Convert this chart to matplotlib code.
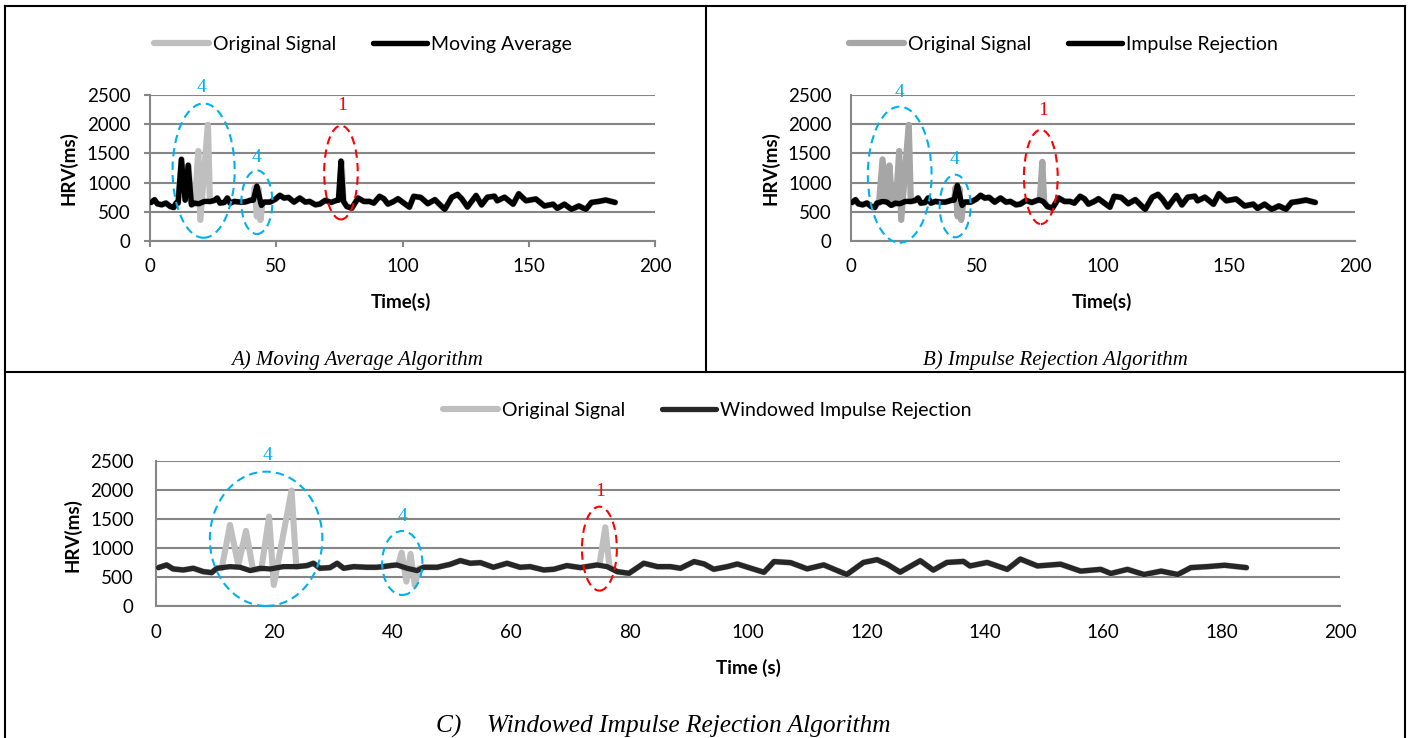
import numpy as np
import matplotlib
matplotlib.use("Agg")
import matplotlib.pyplot as plt
from matplotlib.patches import Ellipse
from matplotlib.lines import Line2D

plt.rcParams['font.family'] = ['Lato', 'DejaVu Sans']

# baseline HRV (artifact free part of the recording), time in s / HRV in ms
base_t = [0.4, 1.8, 2.9, 4.6, 6.3, 8.0, 9.4, 10.3, 12.5, 14.2, 15.9, 17.6, 19.3, 21.5,
          23.8, 25.5, 26.6, 27.7, 29.4, 30.6, 31.7, 33.4, 35.6, 37.3, 38.4, 39.6, 40.7,
          42.4, 44.1, 45.2, 47.5, 49.7, 51.4, 53.1, 54.8, 57.0, 59.3, 61.5, 63.2, 65.5,
          67.2, 69.4, 71.7, 74.5, 76.2, 77.9, 79.9, 82.4, 84.7, 86.9, 88.6, 90.9, 92.6,
          94.2, 96.5, 98.2, 100.5, 102.7, 104.4, 107.2, 110.0, 112.8, 116.7, 119.5, 121.8,
          123.5, 125.7, 129.1, 131.3, 133.6, 136.4, 137.5, 140.4, 143.8, 146.0, 148.9,
          152.8, 156.2, 159.6, 161.3, 164.1, 166.9, 169.8, 172.6, 174.8, 177.7, 180.5, 184.2]
base_v = [661, 707, 638, 621, 650, 592, 575, 650, 678, 667, 610, 650, 638, 678,
          678, 696, 736, 650, 661, 736, 650, 678, 667, 667, 678, 696, 707,
          650, 610, 667, 667, 718, 782, 736, 747, 667, 736, 667, 678, 621,
          633, 696, 661, 707, 678, 592, 563, 736, 678, 678, 650, 765, 724,
          633, 678, 724, 650, 581, 765, 747, 640, 708, 542, 750, 798,
          720, 583, 780, 619, 750, 768, 690, 750, 631, 809, 690,
          720, 601, 631, 560, 631, 542, 601, 542, 661, 679, 702, 661]

# artifacts in the original signal
orig_seg1_t = [11.1, 12.5, 13.9, 15.2, 16.4, 17.8, 19.1, 19.9, 22.9, 23.7]
orig_seg1_v = [650, 1397, 707, 1294, 621, 640, 1541, 362, 1990, 678]
orig_seg2_t = [40.9, 41.5, 42.3, 43.0, 43.7, 44.5]
orig_seg2_v = [700, 920, 420, 897, 360, 650]
orig_seg3_t = [74.9, 75.9, 76.6]
orig_seg3_v = [700, 1357, 680]

# what survives each filter
ma_seg1_t = [11.1, 12.4, 13.9, 15.1, 16.4]
ma_seg1_v = [650, 1400, 700, 1300, 621]
ma_seg2_t = [40.9, 42.3, 43.8]
ma_seg2_v = [700, 940, 660]
ma_seg3_t = [74.6, 75.6, 76.6]
ma_seg3_v = [700, 1370, 680]
ir_seg_t = [40.9, 42.2, 43.8]
ir_seg_v = [700, 955, 650]

GRID = '#868686'
CYAN = '#00B0F0'
RED = '#FF0000'


def build(segments):
    pts = list(zip(base_t, base_v))
    for st, sv in segments:
        pts = [p for p in pts if p[0] < st[0] or p[0] > st[-1]]
        pts += list(zip(st, sv))
    pts.sort()
    return np.array([p[0] for p in pts]), np.array([p[1] for p in pts])


orig = build([(orig_seg1_t, orig_seg1_v), (orig_seg2_t, orig_seg2_v), (orig_seg3_t, orig_seg3_v)])
mavg = build([(ma_seg1_t, ma_seg1_v), (ma_seg2_t, ma_seg2_v), (ma_seg3_t, ma_seg3_v)])
imprej = build([(ir_seg_t, ir_seg_v)])
windowed = build([])


def style_axes(ax, xstep, ticks, xpad, ypad):
    ax.set_xlim(0, 200)
    ax.set_ylim(0, 2500)
    ax.set_xticks(np.arange(0, 201, xstep))
    ax.set_yticks(np.arange(0, 2501, 500))
    for s in ['top', 'right']:
        ax.spines[s].set_visible(False)
    for s in ['left', 'bottom']:
        ax.spines[s].set_color(GRID)
        ax.spines[s].set_linewidth(1.5)
    ax.yaxis.grid(True, color=GRID, linewidth=1.5)
    ax.set_axisbelow(True)
    if ticks:
        ax.tick_params(length=4, width=1.5, color=GRID, labelsize=13.5)
    else:
        ax.tick_params(length=0, labelsize=13.5)
    ax.tick_params(axis='x', pad=xpad)
    ax.tick_params(axis='y', pad=ypad)


def ellipses(ax, items):
    for (cx, cy, w, h, col, lab, lx, ly) in items:
        ax.add_patch(Ellipse((cx, cy), w, h, fill=False, edgecolor=col, linewidth=1.5,
                             linestyle=(0, (4, 2.5)), clip_on=False, zorder=5))
        ax.text(lx, ly, lab, color=col, fontsize=14, family='Liberation Serif',
                ha='center', va='center', clip_on=False)


def draw(ax, gray_col, black_col, filt, lw):
    l1, = ax.plot(orig[0], orig[1], color=gray_col, lw=lw + 0.6, solid_joinstyle='round',
                  solid_capstyle='round', zorder=3)
    l2, = ax.plot(filt[0], filt[1], color=black_col, lw=lw, solid_joinstyle='round',
                  solid_capstyle='round', zorder=4)
    return l1, l2


leg = dict(loc='center', ncol=2, frameon=False, fontsize=14, handlelength=2.8,
           handletextpad=0.2, columnspacing=1.9)

fig = plt.figure(figsize=(14.13, 7.38), dpi=100)

# A) moving average
axA = fig.add_axes([0.1062, 0.6734, 0.3574, 0.1978])
hA = draw(axA, '#BFBFBF', '#000000', mavg, 3.9)
style_axes(axA, 50, True, 8, 10)
ellipses(axA, [(21.2, 1206, 24.6, 2300, CYAN, '4', 20.5, 2630),
               (42.3, 665, 12.3, 1090, CYAN, '4', 42.3, 1426),
               (75.6, 1173, 13.3, 1607, RED, '1', 76.2, 2317)])
fig.legend(hA, ['Original Signal', 'Moving Average'], bbox_to_anchor=(0.257, 0.940), **leg)

# B) impulse rejection
axB = fig.add_axes([0.6023, 0.6734, 0.3567, 0.1978])
hB = draw(axB, '#A6A6A6', '#000000', imprej, 3.9)
style_axes(axB, 50, False, 12, 14)
ellipses(axB, [(19.3, 1136, 25.3, 2330, CYAN, '4', 19.1, 2544),
               (41.3, 600, 12.3, 1073, CYAN, '4', 41.1, 1392),
               (75.3, 1097, 13.4, 1613, RED, '1', 76.4, 2244)])
fig.legend(hB, ['Original Signal', 'Impulse Rejection'], bbox_to_anchor=(0.7527, 0.940), **leg)

# C) windowed impulse rejection
axC = fig.add_axes([0.1104, 0.1789, 0.8379, 0.1965])
hC = draw(axC, '#BFBFBF', '#262626', windowed, 3.8)
style_axes(axC, 20, False, 13, 16)
ellipses(axC, [(18.6, 1158, 19.0, 2315, CYAN, '4', 18.9, 2600),
               (41.6, 741, 6.8, 1103, CYAN, '4', 41.6, 1540),
               (74.9, 988, 5.9, 1448, RED, '1', 75.1, 1971)])
fig.legend(hC, ['Original Signal', 'Windowed Impulse Rejection'],
           bbox_to_anchor=(0.5007, 0.4444), **leg)

# axis titles
for x, y in [(0.0481, 0.7724), (0.545, 0.7724), (0.051, 0.275)]:
    fig.text(x, y, 'HRV(ms)', rotation=90, fontsize=13.5, fontweight='bold', ha='center', va='center')
fig.text(0.2838, 0.5908, 'Time(s)', fontsize=13.5, fontweight='bold', ha='center', va='center')
fig.text(0.7799, 0.5908, 'Time(s)', fontsize=13.5, fontweight='bold', ha='center', va='center')
fig.text(0.5294, 0.0949, 'Time (s)', fontsize=13.5, fontweight='bold', ha='center', va='center')

# captions
cap = dict(family='Liberation Serif', style='italic', ha='center', va='center')
fig.text(0.2527, 0.5122, 'A) Moving Average Algorithm', fontsize=15, **cap)
fig.text(0.7473, 0.5122, 'B) Impulse Rejection Algorithm', fontsize=15, **cap)
fig.text(0.4696, 0.0163, 'C)    Windowed Impulse Rejection Algorithm', fontsize=18.3, **cap)

# table borders
for xs, ys in [([0.0035, 0.994], [0.9912, 0.9912]), ([0.0035, 0.0035], [0.0, 0.9912]),
               ([0.994, 0.994], [0.0, 0.9912]), ([0.0035, 0.994], [0.4959, 0.4959]),
               ([0.4996, 0.4996], [0.4959, 0.9912])]:
    fig.add_artist(Line2D(xs, ys, color='black', linewidth=1.5))

fig.savefig('out.png', dpi=100)
